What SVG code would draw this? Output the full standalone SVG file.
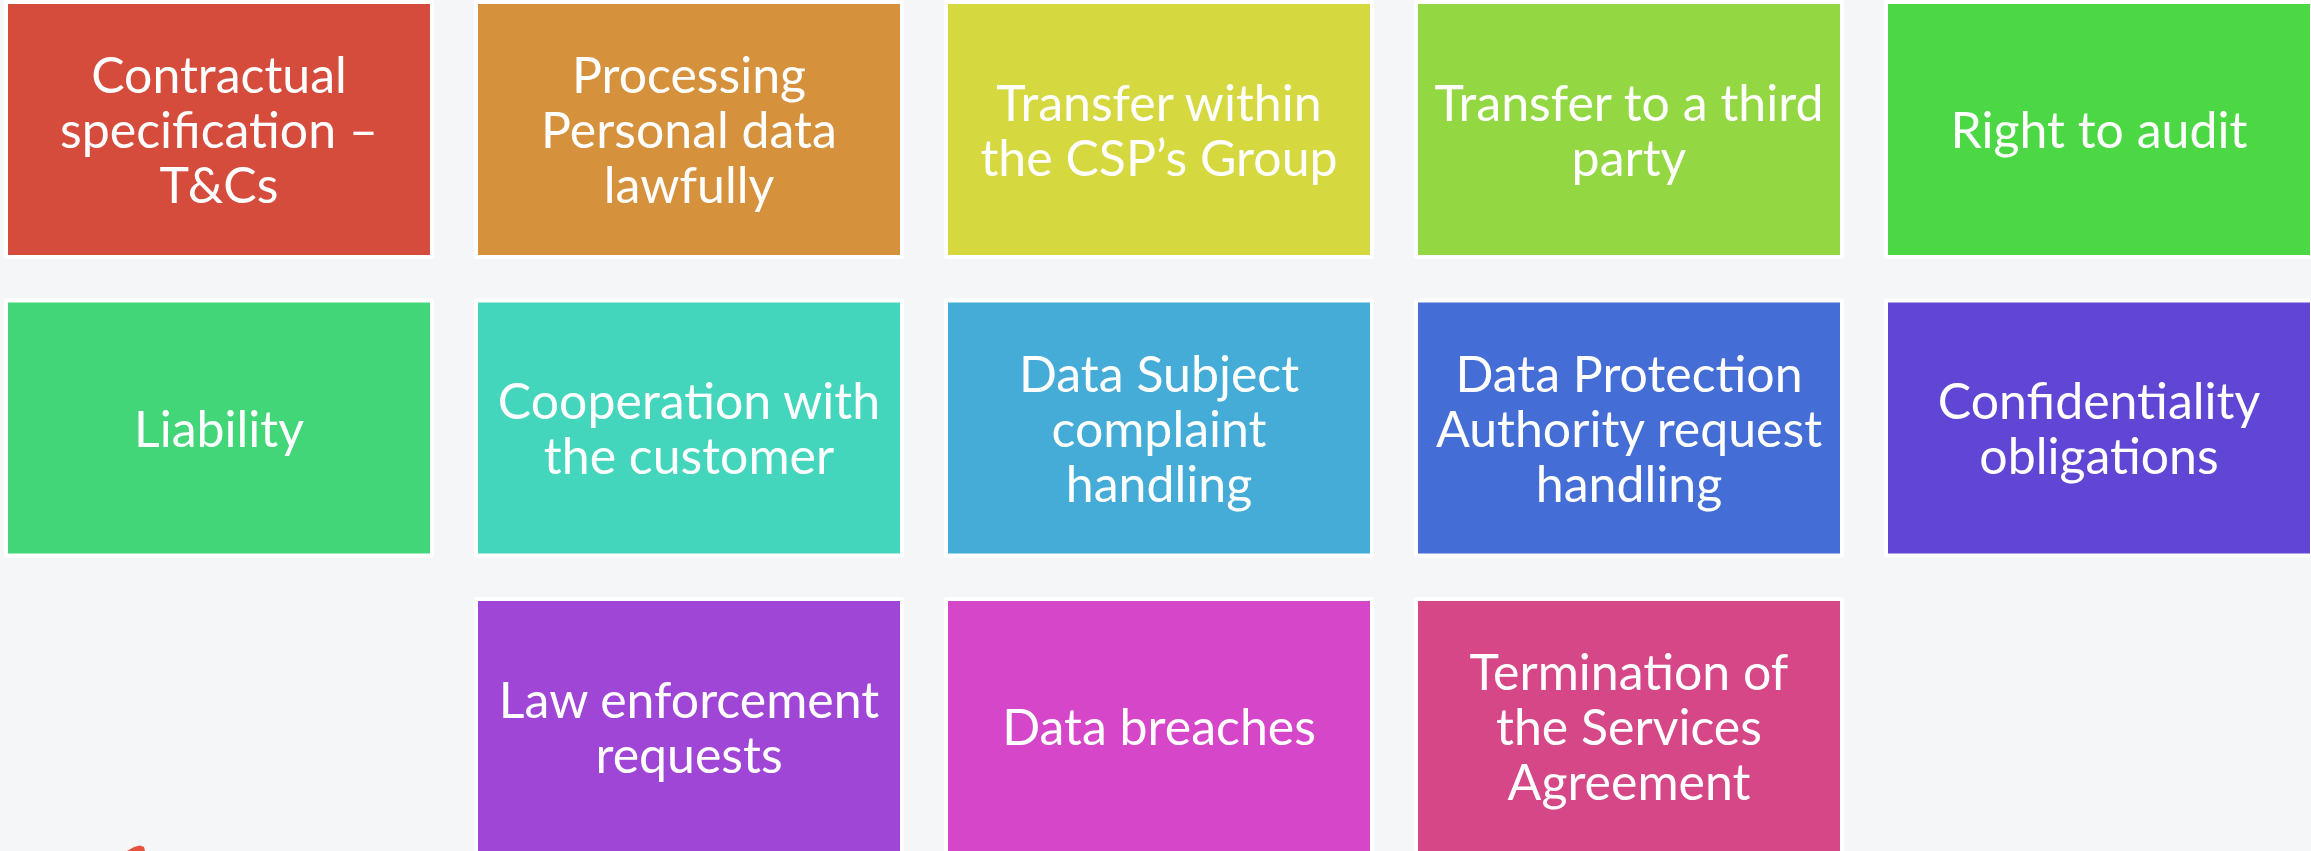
<svg xmlns="http://www.w3.org/2000/svg" width="2311" height="851" viewBox="0 0 2311 851">
<style>
.bg{fill:#F5F6F8}
.frame{fill:#FFFFFF}
.t{font-family:Lato,"Open Sans","Liberation Sans",sans-serif;font-size:50px;fill:#FFFFFF;text-anchor:middle}
</style>
<rect class="bg" x="0" y="0" width="2311" height="851"/>
<g id="nodes">
<g id="n1"><rect class="frame" x="4" y="0" width="430" height="259" rx="3"/><rect x="8" y="4" width="422" height="251" fill="#D54C3D"/><text class="t" x="219" y="93">Contractual</text><text class="t" x="219" y="148">specification –</text><text class="t" x="219" y="203">T&amp;Cs</text></g>
<g id="n2"><rect class="frame" x="474" y="0" width="430" height="259" rx="3"/><rect x="478" y="4" width="422" height="251" fill="#D6913D"/><text class="t" x="689" y="93">Processing</text><text class="t" x="689" y="148">Personal data</text><text class="t" x="689" y="203">lawfully</text></g>
<g id="n3"><rect class="frame" x="944" y="0" width="430" height="259" rx="3"/><rect x="948" y="4" width="422" height="251" fill="#D6D840"/><text class="t" x="1159" y="120.5">Transfer within</text><text class="t" x="1159" y="175.5">the CSP’s Group</text></g>
<g id="n4"><rect class="frame" x="1414" y="0" width="430" height="259" rx="3"/><rect x="1418" y="4" width="422" height="251" fill="#93D843"/><text class="t" x="1629" y="120.5">Transfer to a third</text><text class="t" x="1629" y="175.5">party</text></g>
<g id="n5"><rect class="frame" x="1884" y="0" width="430" height="259" rx="3"/><rect x="1888" y="4" width="422" height="251" fill="#4CD745"/><text class="t" x="2099" y="148">Right to audit</text></g>
<g id="n6"><rect class="frame" x="4" y="298.5" width="430" height="259" rx="3"/><rect x="8" y="302.5" width="422" height="251" fill="#42D679"/><text class="t" x="219" y="446.5">Liability</text></g>
<g id="n7"><rect class="frame" x="474" y="298.5" width="430" height="259" rx="3"/><rect x="478" y="302.5" width="422" height="251" fill="#44D6BC"/><text class="t" x="689" y="419">Cooperation with</text><text class="t" x="689" y="474">the customer</text></g>
<g id="n8"><rect class="frame" x="944" y="298.5" width="430" height="259" rx="3"/><rect x="948" y="302.5" width="422" height="251" fill="#44ACD6"/><text class="t" x="1159" y="391.5">Data Subject</text><text class="t" x="1159" y="446.5">complaint</text><text class="t" x="1159" y="501.5">handling</text></g>
<g id="n9"><rect class="frame" x="1414" y="298.5" width="430" height="259" rx="3"/><rect x="1418" y="302.5" width="422" height="251" fill="#446DD6"/><text class="t" x="1629" y="391.5">Data Protection</text><text class="t" x="1629" y="446.5">Authority request</text><text class="t" x="1629" y="501.5">handling</text></g>
<g id="n10"><rect class="frame" x="1884" y="298.5" width="430" height="259" rx="3"/><rect x="1888" y="302.5" width="422" height="251" fill="#6146D6"/><text class="t" x="2099" y="419">Confidentiality</text><text class="t" x="2099" y="474">obligations</text></g>
<g id="n11"><rect class="frame" x="474" y="597" width="430" height="259" rx="3"/><rect x="478" y="601" width="422" height="251" fill="#A046D6"/><text class="t" x="689" y="717.5">Law enforcement</text><text class="t" x="689" y="772.5">requests</text></g>
<g id="n12"><rect class="frame" x="944" y="597" width="430" height="259" rx="3"/><rect x="948" y="601" width="422" height="251" fill="#D646C8"/><text class="t" x="1159" y="745">Data breaches</text></g>
<g id="n13"><rect class="frame" x="1414" y="597" width="430" height="259" rx="3"/><rect x="1418" y="601" width="422" height="251" fill="#D64787"/><text class="t" x="1629" y="690">Termination of</text><text class="t" x="1629" y="745">the Services</text><text class="t" x="1629" y="800">Agreement</text></g>
</g>
<g id="connectors"></g>
<path d="M127 851 L134 847 L140 845.5 L144 847 L145 851 Z" fill="#E5533F"/>
</svg>
